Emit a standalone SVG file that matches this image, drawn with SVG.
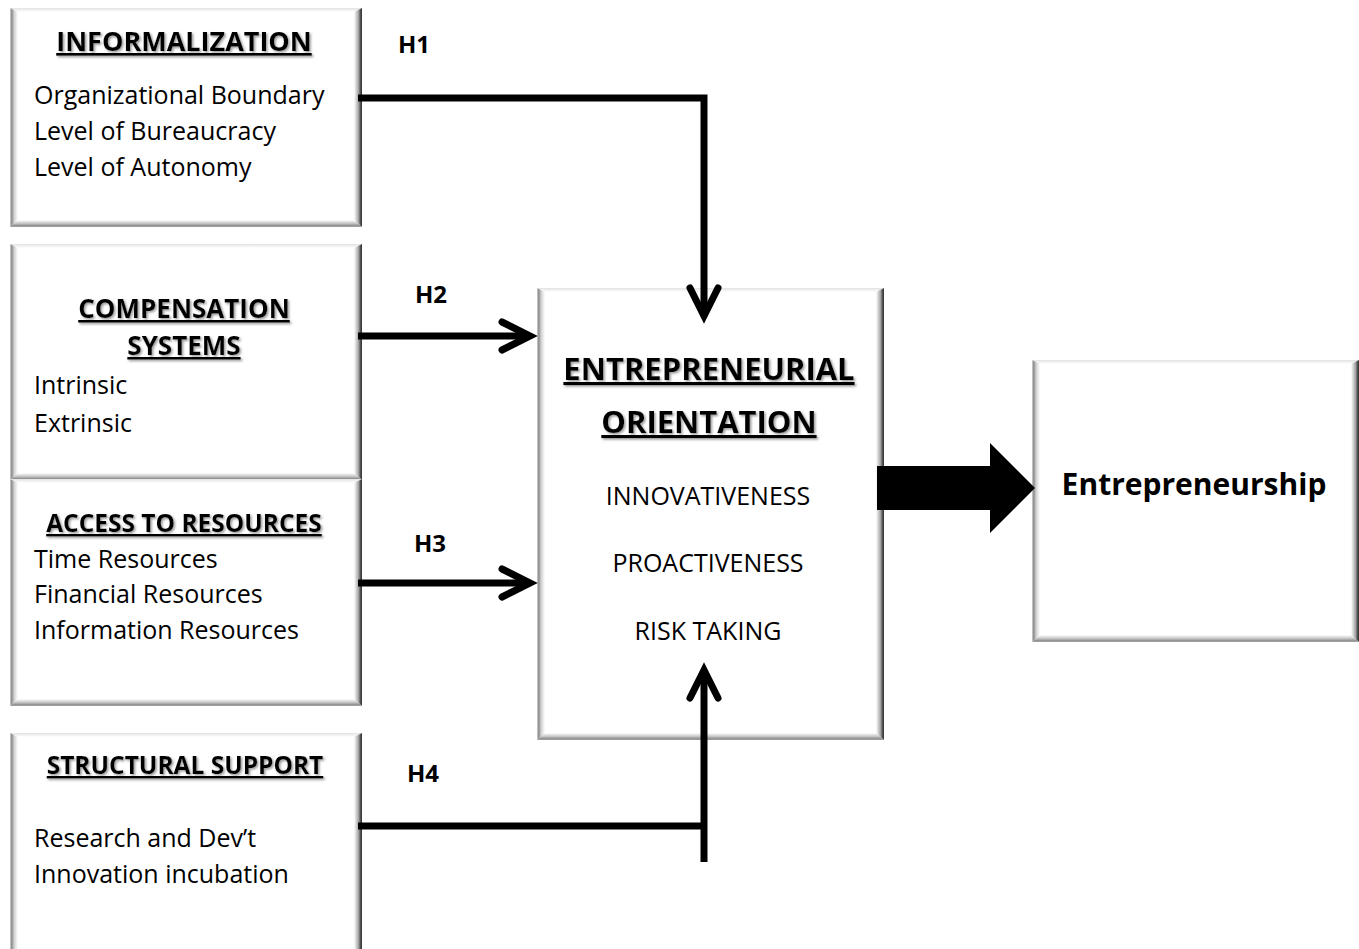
<svg xmlns="http://www.w3.org/2000/svg" width="1359" height="949" viewBox="0 0 1359 949">
<style>
text{font-family:"Open Sans","Liberation Sans",sans-serif;fill:#000;font-variant-ligatures:none}
.t{font-weight:bold;font-size:26px;text-anchor:middle;text-decoration:underline;filter:url(#tsh)}
.b{font-size:25px}
.h{font-weight:bold;font-size:24px}
.eo{font-weight:bold;font-size:31px;text-anchor:middle;text-decoration:underline;filter:url(#tsh)}
.d{font-size:25px;text-anchor:middle}
.e{font-weight:bold;font-size:30px;text-anchor:middle}
.face{fill:#fff}
.bt{fill:url(#gT)}.bl{fill:url(#gL)}.br{fill:url(#gR)}.bb{fill:url(#gB)}
.c{fill:none;stroke:#000;stroke-width:7}
</style>
<defs>
<linearGradient id="gL" x1="0" y1="0" x2="1" y2="0"><stop offset="0" stop-color="#d4d4d4"/><stop offset="0.22" stop-color="#8a8a8a"/><stop offset="0.5" stop-color="#cfcfcf"/><stop offset="1" stop-color="#fff"/></linearGradient>
<linearGradient id="gR" x1="0" y1="0" x2="1" y2="0"><stop offset="0" stop-color="#fff"/><stop offset="0.55" stop-color="#a8a8a8"/><stop offset="0.8" stop-color="#555"/><stop offset="1" stop-color="#2e2e2e"/></linearGradient>
<linearGradient id="gT" x1="0" y1="0" x2="0" y2="1"><stop offset="0" stop-color="#e2e2e2"/><stop offset="1" stop-color="#fff"/></linearGradient>
<linearGradient id="gB" x1="0" y1="0" x2="0" y2="1"><stop offset="0" stop-color="#fff"/><stop offset="0.5" stop-color="#c4c4c4"/><stop offset="0.85" stop-color="#8a8a8a"/><stop offset="1" stop-color="#b0b0b0"/></linearGradient>
<filter id="tsh" x="-5%" y="-20%" width="110%" height="150%"><feDropShadow dx="1.5" dy="1.5" stdDeviation="0.8" flood-color="#7f7f7f" flood-opacity="0.8"/></filter>
<marker id="chev" markerUnits="userSpaceOnUse" markerWidth="50" markerHeight="50" refX="36" refY="25" orient="auto" overflow="visible"><polyline points="8,11 36,25 8,39" fill="none" stroke="#000" stroke-width="7" stroke-linecap="round" stroke-linejoin="miter"/></marker>
</defs>
<rect width="1359" height="949" fill="#fff"/>

<g id="informalization">
<rect class="face" x="10" y="8" width="352" height="219"/>
<polygon class="bt" points="10,8 362,8 354,12 18,12"/>
<polygon class="bl" points="10,8 18,12 18,220 10,227"/>
<polygon class="br" points="362,8 362,227 354,220 354,12"/>
<polygon class="bb" points="10,227 18,220 354,220 362,227"/>
<text class="t" x="184" y="51" style="font-size:27px">INFORMALIZATION</text>
<text class="b" x="34" y="104">Organizational Boundary</text>
<text class="b" x="34" y="140">Level of Bureaucracy</text>
<text class="b" x="34" y="176">Level of Autonomy</text>
</g>

<g id="compensation">
<rect class="face" x="10" y="244" width="352" height="236"/>
<polygon class="bt" points="10,244 362,244 354,248 18,248"/>
<polygon class="bl" points="10,244 18,248 18,473 10,480"/>
<polygon class="br" points="362,244 362,480 354,473 354,248"/>
<polygon class="bb" points="10,480 18,473 354,473 362,480"/>
<text class="t" x="184" y="318">COMPENSATION</text>
<text class="t" x="184" y="355">SYSTEMS</text>
<text class="b" x="34" y="394">Intrinsic</text>
<text class="b" x="34" y="432">Extrinsic</text>
</g>

<g id="access">
<rect class="face" x="10" y="479" width="352" height="227"/>
<polygon class="bt" points="10,479 362,479 354,483 18,483"/>
<polygon class="bl" points="10,479 18,483 18,699 10,706"/>
<polygon class="br" points="362,479 362,706 354,699 354,483"/>
<polygon class="bb" points="10,706 18,699 354,699 362,706"/>
<text class="t" x="184" y="532" style="font-size:24.5px">ACCESS TO RESOURCES</text>
<text class="b" x="34" y="568">Time Resources</text>
<text class="b" x="34" y="603">Financial Resources</text>
<text class="b" x="34" y="639">Information Resources</text>
</g>

<g id="structural">
<rect class="face" x="10" y="733" width="352" height="230"/>
<polygon class="bt" points="10,733 362,733 354,737 18,737"/>
<polygon class="bl" points="10,733 18,737 18,963 10,963"/>
<polygon class="br" points="362,733 362,963 354,963 354,737"/>
<text class="t" x="185" y="774" style="font-size:24.5px">STRUCTURAL SUPPORT</text>
<text class="b" x="34" y="847">Research and Dev’t</text>
<text class="b" x="34" y="883">Innovation incubation</text>
</g>

<g id="entrepreneurial-orientation">
<rect class="face" x="537" y="288" width="347" height="452"/>
<polygon class="bt" points="537,288 884,288 876,292 545,292"/>
<polygon class="bl" points="537,288 545,292 545,733 537,740"/>
<polygon class="br" points="884,288 884,740 876,733 876,292"/>
<polygon class="bb" points="537,740 545,733 876,733 884,740"/>
<text class="eo" x="709" y="380">ENTREPRENEURIAL</text>
<text class="eo" x="709" y="433">ORIENTATION</text>
<text class="d" x="708" y="505">INNOVATIVENESS</text>
<text class="d" x="708" y="572">PROACTIVENESS</text>
<text class="d" x="708" y="640">RISK TAKING</text>
</g>

<g id="entrepreneurship">
<rect class="face" x="1032" y="360" width="327" height="282"/>
<polygon class="bt" points="1032,360 1359,360 1351,364 1040,364"/>
<polygon class="bl" points="1032,360 1040,364 1040,635 1032,642"/>
<polygon class="br" points="1359,360 1359,642 1351,635 1351,364"/>
<polygon class="bb" points="1032,642 1040,635 1351,635 1359,642"/>
<text class="e" x="1194" y="495">Entrepreneurship</text>
</g>

<g id="connectors">
<path class="c" d="M358,98 H704 V316" marker-end="url(#chev)"/>
<path class="c" d="M358,336 H530" marker-end="url(#chev)"/>
<path class="c" d="M358,583 H530" marker-end="url(#chev)"/>
<path class="c" d="M358,826 H704"/>
<path class="c" d="M704,862 V670" marker-end="url(#chev)"/>
<polygon points="877,466 990,466 990,443 1035,488 990,533 990,510 877,510" fill="#000"/>
<text class="h" x="398" y="53">H1</text>
<text class="h" x="415" y="303">H2</text>
<text class="h" x="414" y="552">H3</text>
<text class="h" x="407" y="782">H4</text>
</g>
</svg>
